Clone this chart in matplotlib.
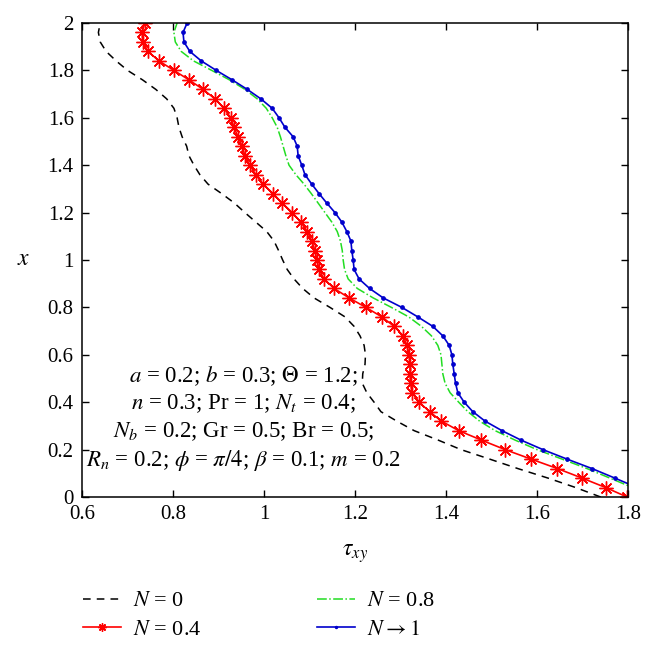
import numpy as np
import matplotlib.pyplot as plt

plt.rcParams['font.family'] = ['Liberation Serif', 'DejaVu Serif']
plt.rcParams['mathtext.fontset'] = 'stix'

# x positions (0 to 2, step 0.04) and shear stress for each N
x = np.linspace(0, 2, 51)

tau_n0 = [1.740, 1.685, 1.624, 1.558, 1.496, 1.433, 1.383, 1.330, 1.292, 1.257,
          1.242, 1.226, 1.216, 1.217, 1.222, 1.223, 1.220, 1.211, 1.198, 1.178,
          1.145, 1.110, 1.085, 1.066, 1.051, 1.041, 1.032, 1.022, 1.006, 0.982,
          0.958, 0.935, 0.907, 0.877, 0.859, 0.846, 0.835, 0.830, 0.820, 0.813,
          0.809, 0.802, 0.786, 0.762, 0.733, 0.700, 0.675, 0.653, 0.640, 0.636,
          0.640]

tau_n04 = [1.798, 1.751, 1.699, 1.645, 1.587, 1.530, 1.478, 1.428, 1.390, 1.364,
           1.341, 1.326, 1.322, 1.321, 1.321, 1.319, 1.314, 1.306, 1.286, 1.259,
           1.224, 1.187, 1.154, 1.132, 1.121, 1.116, 1.112, 1.105, 1.095, 1.081,
           1.062, 1.040, 1.020, 0.998, 0.982, 0.969, 0.958, 0.952, 0.943, 0.934,
           0.927, 0.912, 0.892, 0.866, 0.835, 0.802, 0.769, 0.745, 0.734, 0.732,
           0.738]

tau_n08 = [1.858, 1.810, 1.760, 1.710, 1.655, 1.600, 1.552, 1.508, 1.474, 1.448,
           1.428, 1.409, 1.398, 1.393, 1.391, 1.389, 1.382, 1.368, 1.346, 1.318,
           1.280, 1.240, 1.205, 1.185, 1.177, 1.174, 1.172, 1.168, 1.161, 1.149,
           1.134, 1.119, 1.104, 1.088, 1.070, 1.055, 1.048, 1.042, 1.036, 1.029,
           1.018, 1.005, 0.985, 0.958, 0.924, 0.885, 0.845, 0.818, 0.805, 0.802,
           0.809]

tau_n1 = [1.868, 1.820, 1.771, 1.721, 1.666, 1.613, 1.565, 1.523, 1.486, 1.459,
          1.440, 1.426, 1.421, 1.418, 1.415, 1.413, 1.407, 1.393, 1.371, 1.338,
          1.303, 1.262, 1.232, 1.209, 1.198, 1.196, 1.193, 1.191, 1.182, 1.171,
          1.156, 1.138, 1.121, 1.105, 1.090, 1.083, 1.075, 1.073, 1.064, 1.046,
          1.033, 1.018, 0.993, 0.963, 0.930, 0.895, 0.862, 0.837, 0.824, 0.822,
          0.831]

labels = [r'$N$ = 0', r'$N$ = 0.4', r'$N$ = 0.8', r'$N \rightarrow 1$']

params = [r'$a$ = 0.2; $b$ = 0.3; $\Theta$ = 1.2;',
          r'$n$ = 0.3; Pr = 1; $N_t$ = 0.4;',
          r'$N_b$ = 0.2; Gr = 0.5; Br = 0.5;',
          r'$R_n$ = 0.2; $\phi$ = $\pi/4$; $\beta$ = 0.1; $m$ = 0.2']

fig = plt.figure(figsize=(6.53, 6.47), dpi=100)
ax = fig.add_axes([0.1256, 0.2318, 0.8361, 0.7327])

ax.plot(tau_n0, x, '--', color='black', lw=1.1, dashes=(5, 4), label=labels[0])
ax.plot(tau_n04, x, '-', color='red', lw=1.2, marker=(8, 2, 0), ms=10,
        mew=1.0, label=labels[1])
ax.plot(tau_n08, x, '-.', color='#22dd22', lw=1.1, label=labels[2])
ax.plot(tau_n1, x, '-', color='#0000cc', lw=1.2, marker='o', ms=2.4,
        label=labels[3])

ax.set_xlim(0.6, 1.8)
ax.set_ylim(0, 2)
ax.set_xticks(np.arange(0.6, 1.81, 0.2))
ax.set_xticklabels(['0.6', '0.8', '1', '1.2', '1.4', '1.6', '1.8'])
ax.set_yticks(np.arange(0, 2.01, 0.2))
ax.set_yticklabels(['0', '0.2', '0.4', '0.6', '0.8', '1', '1.2', '1.4',
                    '1.6', '1.8', '2'])
ax.tick_params(direction='in', top=True, right=True, length=5, width=1,
               labelsize=15, pad=6)
for s in ax.spines.values():
    s.set_linewidth(1.1)

ax.set_xlabel(r'$\tau_{xy}$', fontsize=17, labelpad=13)
ax.set_ylabel(r'$x$', fontsize=17, rotation=0, labelpad=17, va='center')

for i, line in enumerate(params):
    ax.text(0.955, 0.51 - i * 0.118, line, ha='center', va='center',
            fontsize=16.5)

fig.legend(loc='upper left', bbox_to_anchor=(0.0965, 0.1177), ncol=2,
           frameon=False, fontsize=16, handlelength=1.7, handletextpad=0.55,
           columnspacing=5.2, labelspacing=0.35, markerscale=0.6)

fig.savefig('out.png', dpi=100)
